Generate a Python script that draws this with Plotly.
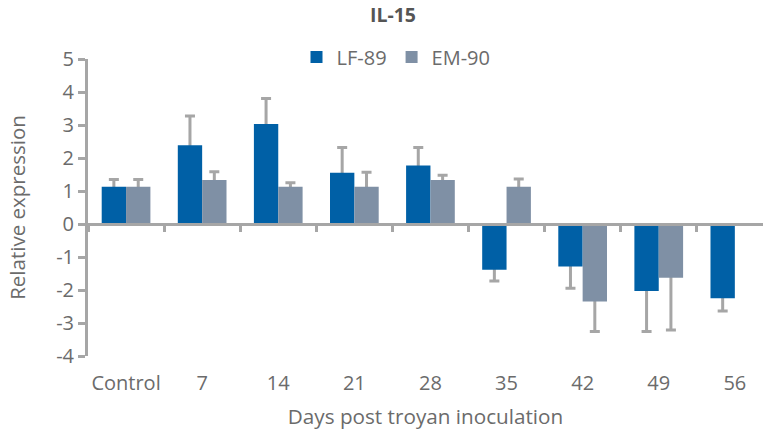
import plotly.graph_objects as go

categories = ["Control", "7", "14", "21", "28", "35", "42", "49", "56"]
lf89 = [1.13, 2.39, 3.03, 1.55, 1.77, -1.39, -1.29, -2.03, -2.25]
lf89_err = [0.22, 0.88, 0.77, 0.77, 0.55, 0.34, 0.66, 1.23, 0.39]
em90 = [1.13, 1.33, 1.13, 1.13, 1.33, 1.13, -2.35, -1.63, None]
em90_err = [0.22, 0.25, 0.12, 0.44, 0.15, 0.23, 0.91, 1.58, None]
y_tick_vals = [-4, -3, -2, -1, 0, 1, 2, 3, 4, 5]
y_tick_text = ["-4", "-3", "-2", "-1", "0", "1", "2", "3", "4", "5"]

BLUE = "#0060a6"
SLATE = "#7f90a5"
GRAY = "#a6a6a6"
TXT = "#6b6b6b"
FONT = "Open Sans"
FS = 20
HIDE = 0.1   # hidden inner part of error bar (covered by bar)
BW = 0.32    # bar width in category units


def one_sided(vals, errs):
    up, dn = [], []
    for v, e in zip(vals, errs):
        if v is None:
            up.append(None); dn.append(None)
        elif v >= 0:
            up.append(e); dn.append(HIDE)
        else:
            up.append(HIDE); dn.append(e)
    return up, dn


fig = go.Figure()

# error bars (drawn underneath on the base subplot)
for name, vals, errs, off in [("LF-89", lf89, lf89_err, -BW), ("EM-90", em90, em90_err, 0.0)]:
    up, dn = one_sided(vals, errs)
    fig.add_trace(go.Bar(
        x=categories, y=vals, width=BW, offset=off,
        marker=dict(color="rgba(0,0,0,0)", line=dict(width=0)),
        error_y=dict(type="data", symmetric=False, array=up, arrayminus=dn,
                     color=GRAY, thickness=3, width=5),
        showlegend=False, hoverinfo="skip", xaxis="x", yaxis="y"))

# visible bars on overlaid axis
for name, vals, color, off in [("LF-89", lf89, BLUE, -BW), ("EM-90", em90, SLATE, 0.0)]:
    fig.add_trace(go.Bar(
        x=categories, y=vals, width=BW, offset=off, name=name,
        marker=dict(color=color, line=dict(width=0)),
        xaxis="x2", yaxis="y"))

xr = [-0.5, 8.37]
fig.update_layout(
    width=763, height=436,
    margin=dict(l=88, r=0, t=59, b=80),
    paper_bgcolor="white", plot_bgcolor="white",
    barmode="overlay",
    font=dict(family=FONT, size=FS, color=TXT),
    title=dict(text="<b>IL-15</b>", x=393 / 763, xanchor="center", y=1 - 15 / 436, yanchor="middle",
               font=dict(family=FONT, size=19.5, color="#555555")),
    legend=dict(orientation="h", x=(396 - 88) / 675, xanchor="center", y=1.007, yanchor="middle",
                font=dict(family=FONT, size=FS, color=TXT), bgcolor="rgba(0,0,0,0)",
                itemwidth=30, tracegroupgap=0),
    xaxis=dict(type="category", range=xr, showline=False, showgrid=False, zeroline=False,
               ticks="outside", ticklen=9, tickcolor="rgba(0,0,0,0)",
               tickfont=dict(family=FONT, size=FS, color=TXT),
               title=dict(text="Days post troyan inoculation", standoff=14,
                          font=dict(family=FONT, size=20.7, color=TXT))),
    xaxis2=dict(type="category", range=xr, overlaying="x", anchor="free", position=4 / 9,
                showline=True, linecolor=GRAY, linewidth=3, showgrid=False, zeroline=False,
                ticks="outside", tickson="boundaries", ticklen=6, tickwidth=3, tickcolor=GRAY,
                showticklabels=False),
    yaxis=dict(range=[-4, 5], tickvals=y_tick_vals, ticktext=y_tick_text,
               showline=True, linecolor=GRAY, linewidth=3,
               showgrid=False, zeroline=False, ticks="outside", ticklen=7, tickwidth=3,
               tickcolor=GRAY, tickfont=dict(family=FONT, size=FS, color=TXT),
               title=dict(text="Relative expression", standoff=25,
                          font=dict(family=FONT, size=20.5, color=TXT))),
)

fig.write_html("out.html")
